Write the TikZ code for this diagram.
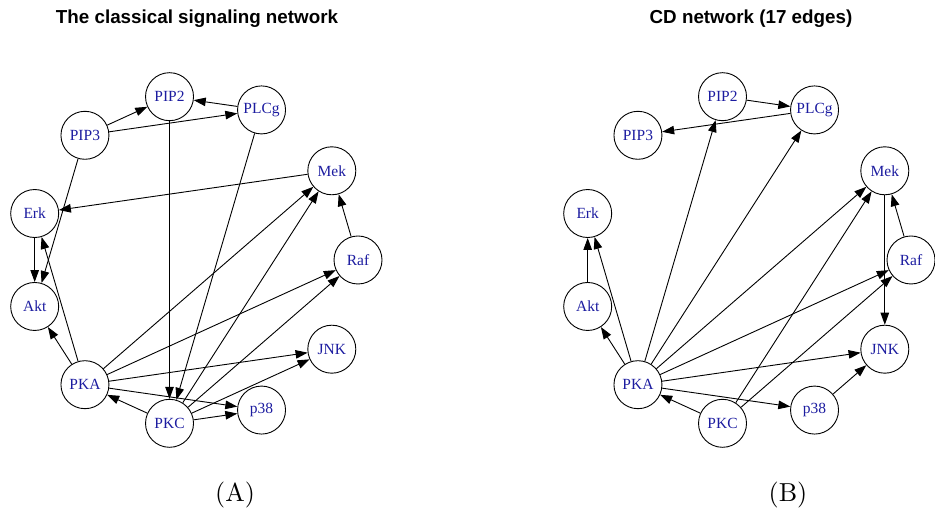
\documentclass[tikz,border=0pt]{standalone}
\usepackage{fontspec}
\usepackage{tikz}
\usetikzlibrary{arrows.meta}
\newfontfamily\genefont{Liberation Serif}
\newfontfamily\titlefont{Liberation Sans}
\newfontfamily\tagfont{lmroman10-regular}[Extension=.otf]
\definecolor{genetext}{RGB}{28,28,160}

\begin{document}
\begin{tikzpicture}[x=1pt,y=1pt,
		gene/.style={circle,draw,line width=0.9pt,minimum size=48pt,inner sep=0pt,
			font=\genefont\fontsize{15.5}{18}\selectfont,text=genetext},
		edge/.style={line width=0.9pt,-{Triangle[length=12pt,width=8.5pt]}},
		title/.style={anchor=base,font=\titlefont\bfseries\fontsize{18.8}{22}\selectfont},
		tag/.style={anchor=base,font=\tagfont\fontsize{26}{30}\selectfont}]
		\useasboundingbox (0,0) rectangle (935,508);
		%print the eleven genes on a circle, left and right network
		\foreach \g/\cx in {A/193,B/746}
			\foreach \n [count=\i from 0] in {Raf,Mek,PLCg,PIP2,PIP3,Erk,Akt,PKA,PKC,p38,JNK}
				\node[gene] (\g\n) at ({\cx+165*cos(\i*360/11)},{248+165*sin(\i*360/11)}) {\n};
		%classical signaling network
		\foreach \s/\t in {PIP3/PIP2,PIP3/PLCg,PLCg/PIP2,PIP2/PKC,PLCg/PKC,PIP3/Akt,Erk/Akt,Mek/Erk,
			Raf/Mek,PKA/Akt,PKA/Erk,PKA/Mek,PKA/Raf,PKA/JNK,PKA/p38,PKC/PKA,PKC/Mek,PKC/Raf,PKC/JNK,PKC/p38}
			\draw[edge] (A\s)--(A\t);
		%CD network
		\foreach \s/\t in {PIP2/PLCg,PLCg/PIP3,PKA/PIP2,PKA/PLCg,Akt/Erk,PKA/Erk,PKA/Akt,PKA/Mek,PKA/Raf,
			PKA/JNK,PKA/p38,PKC/PKA,PKC/Mek,PKC/Raf,Raf/Mek,Mek/JNK,p38/JNK}
			\draw[edge] (B\s)--(B\t);
		%print titles and foot note
		\node[title] (titleA) at (197,484) {The classical signaling network};
		\node[title] (titleB) at (751,484) {CD network (17 edges)};
		\node[tag] (tagA) at (235,6) {(A)};
		\node[tag] (tagB) at (788,6) {(B)};
	\end{tikzpicture}
\end{document}
